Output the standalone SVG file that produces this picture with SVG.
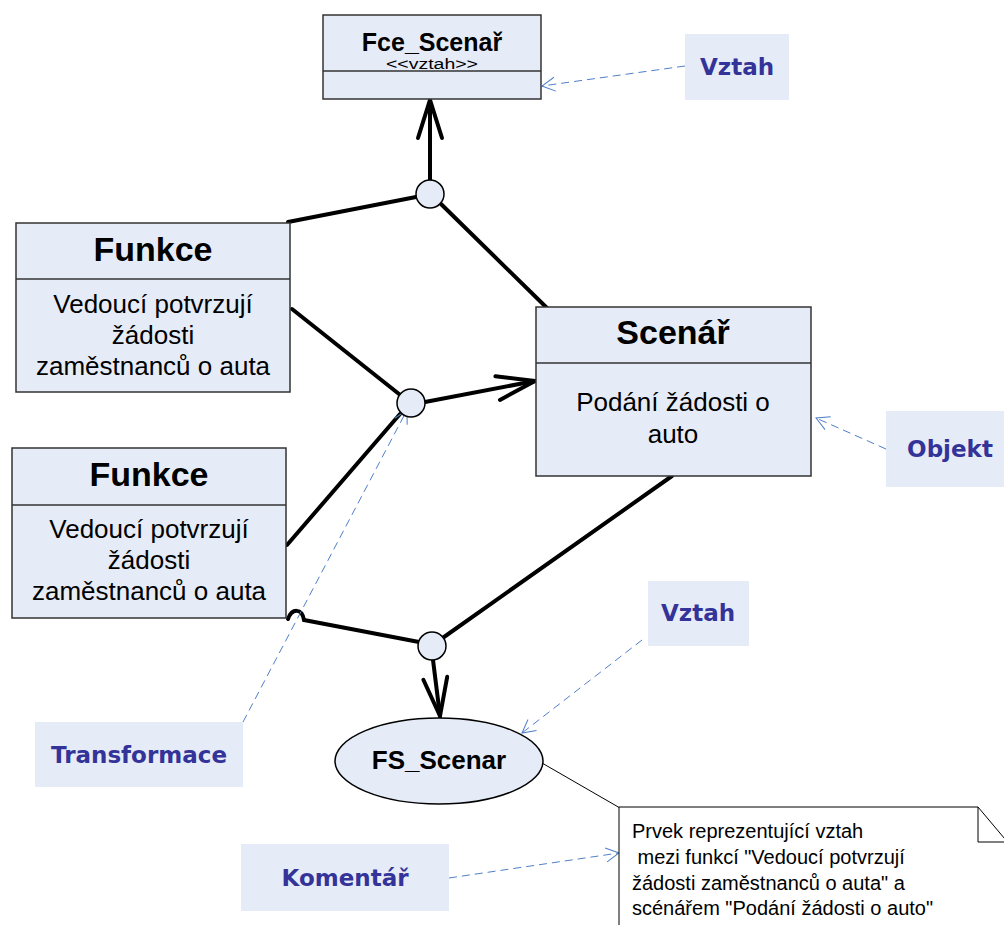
<svg xmlns="http://www.w3.org/2000/svg" width="1004" height="925" viewBox="0 0 1004 925">
  <style>
    .node { fill: #E6ECF7; stroke: #333333; stroke-width: 1.5; }
    .title { font-family: "Liberation Sans", Arial, sans-serif; font-weight: bold; fill: #000; text-anchor: middle; }
    .body { font-family: "Liberation Sans", Arial, sans-serif; fill: #000; text-anchor: middle; }
    .tag { fill: #E6ECF7; stroke: none; }
    .tagtext { font-family: "DejaVu Sans", sans-serif; font-weight: bold; fill: #333399; font-size: 23px; text-anchor: middle; }
    .conn { fill: none; stroke: #000; stroke-width: 4; stroke-linecap: round; }
    .dash { fill: none; stroke: #4F7FC8; stroke-width: 1; stroke-dasharray: 8 5; }
    .thin { fill: none; stroke: #000; stroke-width: 1; }
    .junction { fill: #E6ECF7; stroke: #000; stroke-width: 1.5; }
  </style>
  <defs>
    <marker id="open" markerUnits="userSpaceOnUse" viewBox="-40 -14 42 28" refX="0" refY="0" markerWidth="42" markerHeight="28" orient="auto" overflow="visible">
      <path d="M -38 -12 L 0 0 L -38 12" fill="none" stroke="#000" stroke-width="4" stroke-linecap="round" stroke-linejoin="miter"/>
    </marker>
    <marker id="openThin" markerUnits="userSpaceOnUse" viewBox="-14 -8 16 16" refX="0" refY="0" markerWidth="16" markerHeight="16" orient="auto" overflow="visible">
      <path d="M -13 -7 L 0 0 L -13 7" fill="none" stroke="#4F7FC8" stroke-width="1"/>
    </marker>
  </defs>

  <!-- connectors -->
  <g id="connectors">
    <path class="conn" d="M 430 180 L 430 100" marker-end="url(#open)"/>
    <path class="conn" d="M 288 222 L 416 197"/>
    <path class="conn" d="M 441 204 L 547 308"/>
    <path class="conn" d="M 292 309 L 399 394"/>
    <path class="conn" d="M 425 402 L 535 381" marker-end="url(#open)"/>
    <path class="conn" d="M 400 414 L 287 545"/>
    <path class="conn" d="M 444 637 L 672 476"/>
    <path class="conn" d="M 288 619 C 292 608, 302 608, 304 620 L 419 642"/>
    <path class="conn" d="M 433 660 L 440 716" marker-end="url(#open)"/>
    <path class="thin" d="M 542 763 L 620 808"/>
    <path class="dash" d="M 685 66 L 542 86" marker-end="url(#openThin)"/>
    <path class="dash" d="M 886 449 L 816 418" marker-end="url(#openThin)"/>
    <path class="dash" d="M 642 640 L 522 733" marker-end="url(#openThin)"/>
    <path class="dash" d="M 243 722 L 407 410" marker-end="url(#openThin)"/>
    <path class="dash" d="M 449 878 L 619 853" marker-end="url(#openThin)"/>
  </g>

  <!-- junction points -->
  <g id="junction-top"><circle class="junction" cx="430" cy="194" r="14"/></g>
  <g id="junction-middle"><circle class="junction" cx="411" cy="403" r="14"/></g>
  <g id="junction-bottom"><circle class="junction" cx="432" cy="646" r="14"/></g>

  <g id="fce-scenar">
    <rect class="node" x="323" y="15" width="218" height="84"/>
    <line x1="323" y1="71" x2="541" y2="71" stroke="#333" stroke-width="1.5"/>
    <text class="title" x="432" y="51" font-size="25">Fce_Scenař</text>
    <text class="body" x="432" y="69" font-size="14" textLength="92" lengthAdjust="spacingAndGlyphs">&lt;&lt;vztah&gt;&gt;</text>
  </g>

  <g id="funkce-1">
    <rect class="node" x="16" y="223" width="274" height="169"/>
    <line x1="16" y1="279" x2="290" y2="279" stroke="#333" stroke-width="1.5"/>
    <text class="title" x="153" y="261" font-size="34">Funkce</text>
    <text class="body" x="153" y="313" font-size="26">Vedoucí potvrzují</text>
    <text class="body" x="153" y="344" font-size="26">žádosti</text>
    <text class="body" x="153" y="375" font-size="26">zaměstnanců o auta</text>
  </g>

  <g id="funkce-2">
    <rect class="node" x="12" y="448" width="274" height="170"/>
    <line x1="12" y1="505" x2="286" y2="505" stroke="#333" stroke-width="1.5"/>
    <text class="title" x="149" y="486" font-size="34">Funkce</text>
    <text class="body" x="149" y="538" font-size="26">Vedoucí potvrzují</text>
    <text class="body" x="149" y="569" font-size="26">žádosti</text>
    <text class="body" x="149" y="600" font-size="26">zaměstnanců o auta</text>
  </g>

  <g id="scenar">
    <rect class="node" x="536" y="307" width="275" height="169"/>
    <line x1="536" y1="363" x2="811" y2="363" stroke="#333" stroke-width="1.5"/>
    <text class="title" x="673" y="344" font-size="34">Scenář</text>
    <text class="body" x="673" y="411" font-size="26">Podání žádosti o</text>
    <text class="body" x="673" y="443" font-size="26">auto</text>
  </g>

  <g id="fs-scenar">
    <ellipse class="junction" cx="439" cy="761" rx="104" ry="43"/>
    <text class="title" x="439" y="769" font-size="26">FS_Scenar</text>
  </g>

  <g id="note">
    <path d="M 619 925 L 619 807 L 978 807 L 1010 845" fill="#fff" stroke="#000" stroke-width="1"/>
    <path d="M 978 807 L 978 842 L 1004 842" fill="none" stroke="#000" stroke-width="1"/>
    <text font-family="Liberation Sans, Arial, sans-serif" font-size="20" fill="#000">
      <tspan x="632" y="838">Prvek reprezentující vztah</tspan>
      <tspan x="632" y="864" xml:space="preserve"> mezi funkcí "Vedoucí potvrzují</tspan>
      <tspan x="632" y="890">žádosti zaměstnanců o auta" a</tspan>
      <tspan x="632" y="915">scénářem "Podání žádosti o auto"</tspan>
    </text>
  </g>

  <g id="label-vztah-top">
    <rect class="tag" x="685" y="34" width="104" height="66"/>
    <text class="tagtext" x="737" y="75">Vztah</text>
  </g>
  <g id="label-objekt">
    <rect class="tag" x="886" y="411" width="118" height="76"/>
    <text class="tagtext" x="950" y="457">Objekt</text>
  </g>
  <g id="label-vztah-bottom">
    <rect class="tag" x="648" y="581" width="101" height="65"/>
    <text class="tagtext" x="698" y="621">Vztah</text>
  </g>
  <g id="label-transformace">
    <rect class="tag" x="35" y="722" width="208" height="65"/>
    <text class="tagtext" x="139" y="763">Transformace</text>
  </g>
  <g id="label-komentar">
    <rect class="tag" x="241" y="844" width="208" height="67"/>
    <text class="tagtext" x="345" y="886">Komentář</text>
  </g>
</svg>
